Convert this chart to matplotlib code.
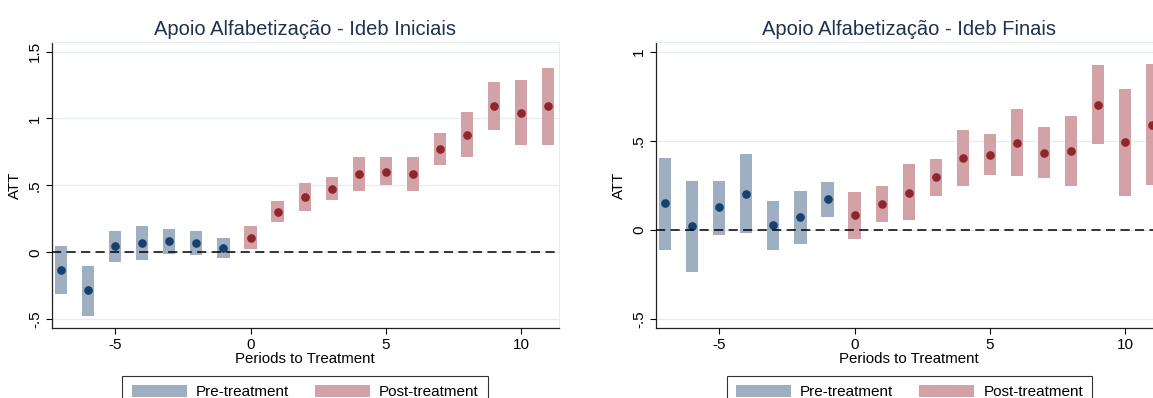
import matplotlib.pyplot as plt
from matplotlib.patches import Patch

plt.rcParams['font.family'] = ['Liberation Sans', 'DejaVu Sans']

periods = list(range(-7, 12))

# Ideb Iniciais
ini_att = [-0.135, -0.285, 0.045, 0.07, 0.085, 0.07, 0.035, 0.11, 0.30, 0.41, 0.475,
           0.585, 0.60, 0.585, 0.77, 0.875, 1.09, 1.04, 1.09]
ini_lo = [-0.315, -0.475, -0.07, -0.06, -0.01, -0.02, -0.04, 0.025, 0.225, 0.31, 0.39,
          0.46, 0.505, 0.46, 0.65, 0.71, 0.915, 0.80, 0.80]
ini_hi = [0.045, -0.105, 0.16, 0.20, 0.175, 0.16, 0.11, 0.195, 0.38, 0.515, 0.565,
          0.71, 0.71, 0.71, 0.89, 1.045, 1.27, 1.285, 1.375]

# Ideb Finais
fin_att = [0.15, 0.021, 0.128, 0.203, 0.026, 0.073, 0.174, 0.086, 0.146, 0.21, 0.295,
           0.405, 0.42, 0.49, 0.432, 0.445, 0.704, 0.493, 0.591]
fin_lo = [-0.111, -0.233, -0.026, -0.019, -0.111, -0.079, 0.073, -0.051, 0.043, 0.056, 0.191,
          0.248, 0.31, 0.302, 0.291, 0.248, 0.482, 0.193, 0.253]
fin_hi = [0.407, 0.276, 0.276, 0.424, 0.165, 0.22, 0.27, 0.214, 0.246, 0.37, 0.401,
          0.561, 0.537, 0.677, 0.578, 0.64, 0.925, 0.794, 0.931]

PRE_BAR, PRE_DOT = '#9eafc1', '#16406e'
POST_BAR, POST_DOT = '#d2a2a7', '#90252d'
TITLE_C = '#1e3252'
GRID_C = '#e3ecf0'


def draw_panel(ax, att, lo, hi, title, yticks, yticklabels, ylim):
    for p, a, l, h in zip(periods, att, lo, hi):
        pre = p < 0
        ax.bar(p, h - l, bottom=l, width=0.45,
               color=PRE_BAR if pre else POST_BAR, zorder=2)
        ax.plot(p, a, 'o', color=PRE_DOT if pre else POST_DOT,
                markersize=5.2, zorder=3)
    ax.axhline(0, color='black', linestyle=(0, (6, 3.5)), linewidth=1.1, zorder=4)
    ax.set_xlim(-7.35, 11.4)
    ax.set_ylim(*ylim)
    ax.set_xticks([-5, 0, 5, 10])
    ax.set_xticklabels(['-5', '0', '5', '10'], fontsize=11)
    ax.set_yticks(yticks)
    ax.set_yticklabels(yticklabels, fontsize=11, rotation=90, va='center')
    ax.tick_params(length=4, width=0.8, pad=3)
    ax.grid(axis='y', color=GRID_C, linewidth=0.9, zorder=0)
    ax.set_axisbelow(True)
    for s in ['top', 'right']:
        ax.spines[s].set_color(GRID_C)
    for s in ['left', 'bottom']:
        ax.spines[s].set_color('#222222')
        ax.spines[s].set_linewidth(0.9)
    ax.set_title(title, fontsize=14.5, color=TITLE_C, pad=5)
    ax.set_xlabel('Periods to Treatment', fontsize=10.8, labelpad=0)
    ax.set_ylabel('ATT', fontsize=10.8, labelpad=4)
    handles = [Patch(facecolor=PRE_BAR, label='Pre-treatment'),
               Patch(facecolor=POST_BAR, label='Post-treatment')]
    leg = ax.legend(handles=handles, loc='upper center', bbox_to_anchor=(0.5, -0.168),
                    ncol=2, frameon=True, fancybox=False, edgecolor='black',
                    fontsize=11, handlelength=3.6, handleheight=0.8,
                    handletextpad=0.6, columnspacing=1.7, borderpad=0.6,
                    borderaxespad=0)
    leg.get_frame().set_linewidth(0.8)


fig = plt.figure(figsize=(11.53, 3.98), dpi=100)
ax1 = fig.add_axes([0.0448, 0.1759, 0.440, 0.7193])
ax2 = fig.add_axes([0.5687, 0.1759, 0.440, 0.7193])

draw_panel(ax1, ini_att, ini_lo, ini_hi, 'Apoio Alfabetização - Ideb Iniciais',
           [-0.5, 0, 0.5, 1, 1.5], ['-.5', '0', '.5', '1', '1.5'], (-0.566, 1.574))
draw_panel(ax2, fin_att, fin_lo, fin_hi, 'Apoio Alfabetização - Ideb Finais',
           [-0.5, 0, 0.5, 1], ['-.5', '0', '.5', '1'], (-0.55, 1.057))

fig.savefig('out.png', dpi=100)
